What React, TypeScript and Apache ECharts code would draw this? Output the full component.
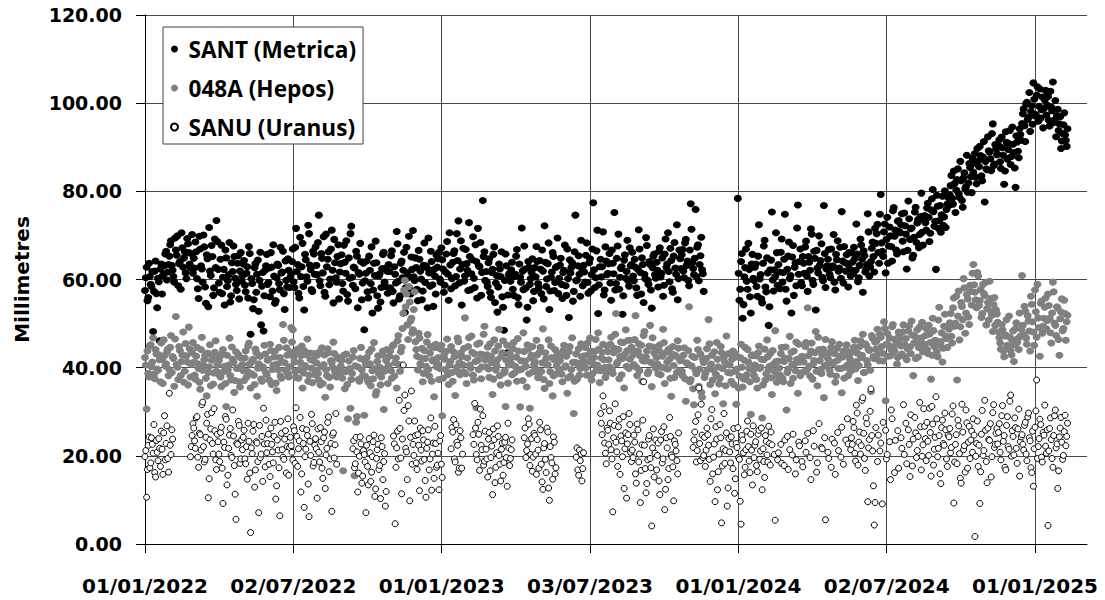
import { useEffect, useRef } from "react";
import * as echarts from "echarts";

// X axis: days since 01/01/2022
const xTickLabels = ["01/01/2022", "02/07/2022", "01/01/2023", "03/07/2023", "01/01/2024", "02/07/2024", "01/01/2025"];
const DAYS_PER_TICK = 1096 / 6; // 01/01/2022 -> 01/01/2025 in six equal steps
const X_MAX_DAYS = 1160;
const STEP_DAYS = 2; // each array holds every second day; "Even" starts at day 0, "Odd" at day 1
const N = null;

const seriesNames = ["SANT (Metrica)", "048A (Hepos)", "SANU (Uranus)"];

// SANT (Metrica), millimetres — even days
const santMetricaEven: (number | null)[] = [
  57.5, 62.8, 55.9, 60.7, 58.4, 48.2, 61.9, 56.8, 60.3, 46.1, 63.5, 60.9, 63.2, 66.4, 61.7,
  65.3, 68.8, 62.1, 59.4, 66.7, 69.9, 63.6, 57.8, 67.2, 64.9, 61.5, 69.3, 66.1, 62.7, 70.2,
  64.8, 68.5, 60.2, 55.7, 66.9, 62.4, 70.1, 58.3, 65.6, 53.8, 61.9, 67.7, 56.4, 69.2, 73.4,
  62.3, 57.1, 67.8, 60.5, 54.2, 64.9, 59.7, 68.4, 56.3, 61.8, 65.2, 58.9, 63.7, 55.6, 66.1,
  60.8, 64.3, 57.2, 62.9, 67.5, 47.6, 59.1, 55.4, 63.6, 61.2, 52.8, 66.2, 58.5, 48.3, 62.1,
  65.7, 59.3, 56.1, 62.8, 67.9, 54.6, 60.4, 63.2, 57.7, 61.5, 66.4, 53.2, 59.8, 64.7, 58.2,
  61.3, 66.9, 58.2, 71.6, 63.4, 55.8, 60.7, 68.2, 53.1, 64.5, 59.6, 70.4, 62.2, 57.3, 65.8,
  67.4, 61.1, 74.6, 58.6, 64.8, 69.7, 56.2, 62.9, 66.3, 60.1, 71.2, 54.7, 63.8, 59.4, 67.9,
  61.7, 65.6, 57.4, 63.9, 68.8, 55.1, 60.3, 72.1, 58.7, 62.6, 66.4, 53.6, 61.2, 64.1, 59.2,
  48.6, 61.4, 57.2, 65.3, 59.1, 52.4, 63.7, 68.7, 56.3, 60.8, 54.9, 62.5, 66.2, 58.4, 61.9,
  63.4, 58.1, 66.5, 54.7, 61.2, 70.9, 59.6, 56.3, 64.2, 62.1, 52.5, 67.3, 60.4, 57.9, 65.1,
  71.1, 59.8, 62.7, 55.2, 64.6, 60.1, 57.4, 68.3, 63.1, 53.6, 61.5, 66.4, 58.8, 62.3, 56.7,
  62.8, 66.2, 59.4, 64.5, 57.1, 61.7, 68.6, 55.3, 63.3, 60.2, 65.9, 58.6, 70.4, 73.3, 62.4,
  54.2, 67.1, 60.8, 63.6, 57.5, 65.2, 61.3, 69.7, 58.2, 64.1, 71.6, 62.9, 56.4, 77.9, 66.3,
  61.8, 58.4, 64.7, 55.9, 62.3, 67.4, 59.2, 52.6, 63.5, 60.7, 56.1, 48.5, 65.8, 43.4, 61.1,
  59.6, 63.9, 56.4, 61.2, 66.8, 54.3, 60.5, 71.7, 57.7, 62.4, 50.8, 64.1, 58.9, 61.6, 55.2,
  62.7, 67.5, 59.1, 64.3, 56.8, 61.9, 72.2, 58.4, 63.6, 53.2, 60.5, 66.1, 57.5, 62.8, 69.4,
  60.3, 64.8, 55.7, 62.1, 58.6, 66.9, 51.4, 61.5, 63.8, 57.3, 74.6, 59.9, 65.4, 56.2, 62.5,
  63.2, 59.4, 68.3, 56.9, 64.7, 61.1, 77.4, 58.2, 66.5, 52.3, 62.9, 60.6, 70.8, 57.6, 64.2,
  61.4, 65.9, 55.3, 63.7, 75.2, 59.1, 67.6, 57.8, 62.5, 52.1, 64.4, 60.3, 68.9, 58.5, 63.1,
  66.2, 59.7, 62.8, 56.4, 71.3, 61.6, 64.9, 54.8, 60.2, 67.7, 58.9, 63.4, 53.5, 65.3, 61.1,
  63.9, 58.3, 67.2, 61.4, 56.2, 65.8, 62.7, 70.6, 59.5, 64.3, 57.1, 68.4, 61.2, 55.4, 66.7,
  62.5, 66.8, 60.4, 69.1, 64.2, 58.6, 77.2, 63.8, 61.1, 75.9, 67.3, 59.7, 65.4, 62.2, 57.3,
  N, N, N, N, N, N, N, N, N, N, N, N, N, N, N,
  N, N, N, N, N, 78.4, 55.3, 64.1, 51.2, 60.6, 66.9, 57.8, 62.3, 52.4, 65.7,
  59.8, 63.5, 56.2, 72.4, 61.1, 54.7, 67.6, 58.3, 64.9, 49.6, 62.2, 75.3, 57.4, 60.7, 66.1,
  63.4, 57.9, 69.2, 61.6, 74.8, 55.1, 65.3, 60.2, 52.4, 67.7, 62.8, 58.6, 76.9, 64.1, 59.3,
  65.2, 61.4, 68.7, 57.3, 63.9, 71.5, 59.8, 66.4, 53.1, 62.6, 69.9, 64.3, 60.5, 76.8, 58.2,
  63.1, 66.8, 60.4, 62.7, 70.2, 57.6, 64.5, 61.9, 67.3, 75.4, 59.2, 63.8, 65.6, 58.3, 62.4,
  66.1, 61.3, 64.7, 72.6, 59.5, 63.2, 67.8, 57.1, 65.4, 62.3, 74.9, 60.8, 64.1, 68.5, 61.7,
  68.2, 72.5, 63.7, 79.3, 66.4, 70.8, 61.5, 74.1, 67.6, 69.9, 64.2, 76.3, 71.2, 65.8, 73.4,
  70.6, 74.9, 66.3, 72.2, 62.4, 77.8, 69.1, 71.7, 65.5, 75.3, 68.4, 73.6, 70.2, 79.6, 67.8,
  74.5, 71.2, 77.3, 68.6, 75.8, 80.4, 72.1, 62.3, 76.6, 73.4, 70.7, 78.9, 74.2, 71.8, 77.1,
  76.8, 81.3, 78.4, 84.6, 75.2, 82.7, 79.5, 86.8, 77.9, 83.1, 80.6, 88.2, 81.9, 85.4, 79.7,
  84.3, 88.6, 81.7, 86.9, 90.2, 83.5, 87.8, 77.6, 85.1, 92.4, 88.9, 84.7, 95.3, 86.2, 89.6,
  88.4, 91.7, 85.2, 89.9, 81.6, 93.5, 87.3, 90.8, 86.1, 94.6, 88.8, 80.9, 91.2, 87.6, 92.9,
  95.4, 98.7, 91.3, 100.2, 96.8, 93.6, 99.4, 104.6, 97.1, 101.8, 95.9, 103.2, 98.5, 94.4, 100.7,
  97.3, 101.5, 94.8, 99.1, 104.8, 96.2, 92.4, 98.6, 95.3, 89.7, 93.1, 97.8, 91.6, 94.2,
];

// SANT (Metrica), millimetres — odd days
const santMetricaOdd: (number | null)[] = [
  60.4, 55.2, 63.7, 58.9, 61.8, 57.3, 64.2, 53.6, 59.5, 62.4, 56.7, 61.2, 65.8, 59.9, 63.4,
  67.9, 63.2, 60.7, 69.4, 65.5, 58.6, 64.1, 70.6, 62.8, 66.3, 60.2, 68.1, 63.5, 65.9, 61.4,
  62.6, 66.3, 57.9, 69.8, 63.1, 59.4, 67.4, 54.6, 64.7, 71.8, 60.9, 65.2, 58.1, 62.7, 68.6,
  59.2, 64.6, 56.8, 62.3, 66.7, 58.4, 61.1, 54.9, 63.8, 67.6, 60.3, 57.5, 65.4, 61.9, 59.6,
  63.5, 58.7, 61.4, 55.8, 65.9, 60.2, 53.4, 62.7, 57.1, 64.4, 59.8, 49.7, 61.6, 56.3, 63.1,
  58.9, 62.6, 66.1, 57.4, 60.8, 55.2, 63.5, 59.1, 67.3, 61.7, 56.8, 64.2, 58.3, 62.1, 60.5,
  64.1, 59.5, 67.3, 61.8, 56.9, 69.6, 62.9, 58.4, 65.7, 60.6, 72.3, 63.3, 57.7, 66.4, 61.2,
  63.2, 68.4, 59.7, 65.9, 61.5, 57.1, 70.3, 64.6, 58.8, 66.9, 62.1, 69.1, 60.4, 65.2, 55.6,
  63.6, 59.1, 67.8, 61.4, 56.6, 64.9, 70.4, 60.5, 62.8, 57.9, 65.3, 61.6, 68.2, 55.4, 63.7,
  59.7, 64.2, 55.8, 62.1, 67.4, 57.6, 60.9, 63.8, 53.5, 61.3, 58.2, 65.7, 59.4, 62.6, 56.9,
  61.8, 65.4, 57.3, 62.9, 59.2, 68.1, 55.6, 63.7, 60.4, 66.2, 58.1, 61.5, 69.8, 56.7, 62.3,
  60.6, 64.9, 57.8, 66.6, 61.9, 55.4, 63.2, 59.3, 62.7, 69.4, 58.5, 64.1, 53.9, 60.8, 65.5,
  64.7, 60.1, 67.2, 62.4, 58.7, 65.8, 61.2, 70.6, 57.9, 63.9, 66.5, 60.7, 64.3, 59.2, 68.8,
  63.4, 59.6, 66.8, 62.1, 72.9, 57.7, 64.5, 60.3, 67.9, 55.8, 63.1, 68.4, 61.6, 65.2, 59.8,
  59.4, 63.8, 57.1, 61.6, 65.7, 54.8, 60.9, 58.3, 62.4, 66.3, 53.7, 59.8, 63.1, 56.5, 61.4,
  62.2, 57.8, 60.7, 65.3, 55.9, 63.5, 59.4, 61.9, 67.6, 58.1, 53.7, 62.8, 60.2, 64.7, 57.3,
  60.6, 64.1, 58.2, 62.4, 66.7, 55.6, 63.9, 60.1, 68.3, 57.4, 61.7, 65.2, 59.3, 62.9, 56.8,
  63.3, 58.9, 61.6, 67.8, 56.4, 60.2, 64.5, 62.7, 55.1, 66.3, 59.7, 63.1, 61.2, 68.9, 58.6,
  61.7, 65.5, 59.3, 63.8, 57.4, 66.9, 62.2, 60.4, 71.2, 58.8, 64.6, 62.9, 56.5, 67.4, 61.1,
  63.6, 59.2, 66.7, 61.3, 57.6, 64.8, 70.3, 60.5, 62.9, 56.3, 65.6, 61.8, 59.7, 67.2, 63.4,
  60.8, 64.6, 58.1, 62.3, 66.9, 56.7, 63.4, 61.2, 69.5, 59.8, 64.1, 57.6, 62.7, 65.8, 60.3,
  62.1, 66.4, 60.6, 64.9, 58.7, 69.2, 63.5, 61.8, 67.1, 57.9, 65.3, 62.6, 72.4, 60.2, 64.7,
  65.6, 61.9, 68.3, 63.2, 59.8, 66.7, 71.4, 62.5, 64.8, 60.7, 67.9, 63.4, 69.6, 61.3, N,
  N, N, N, N, N, N, N, N, N, N, N, N, N, N, N,
  N, N, N, N, N, 61.4, 57.8, 65.9, 54.3, 62.7, 59.6, 68.2, 56.1, 63.5, 60.3,
  62.8, 58.4, 65.3, 60.1, 55.6, 63.7, 68.9, 57.2, 61.5, 53.8, 64.4, 59.9, 62.2, 70.6, 58.7,
  61.7, 66.2, 59.4, 64.6, 57.8, 62.3, 68.5, 60.9, 65.1, 56.4, 63.8, 71.7, 61.2, 66.9, 58.6,
  63.7, 67.4, 60.8, 65.2, 62.1, 70.3, 58.9, 64.8, 66.6, 61.5, 63.2, 68.1, 59.7, 65.9, 62.4,
  64.6, 61.2, 66.9, 63.1, 59.4, 65.7, 68.8, 62.6, 60.3, 64.2, 67.5, 61.9, 63.6, 66.1, 60.8,
  63.9, 67.3, 62.1, 65.8, 60.4, 69.2, 64.6, 66.5, 61.7, 63.4, 70.8, 62.9, 67.1, 65.2, 71.6,
  70.4, 66.1, 74.8, 68.3, 65.2, 72.6, 69.1, 63.7, 71.9, 67.5, 75.6, 69.8, 66.7, 73.2, 70.9,
  72.4, 68.7, 75.1, 70.3, 66.6, 73.8, 71.5, 64.9, 69.6, 76.4, 72.8, 67.2, 74.3, 70.7, 73.5,
  72.9, 76.2, 74.1, 70.5, 78.3, 75.4, 73.2, 79.1, 71.6, 76.8, 74.7, 72.3, 80.1, 75.9, 78.6,
  79.2, 83.6, 77.1, 81.8, 80.3, 85.1, 78.6, 82.4, 76.4, 84.2, 81.1, 79.8, 86.3, 83.3, 87.5,
  86.4, 83.2, 89.7, 85.6, 88.1, 82.4, 91.3, 86.8, 84.9, 89.2, 87.4, 93.1, 85.8, 90.6, 88.3,
  90.4, 86.7, 92.3, 88.2, 84.6, 91.1, 89.5, 93.8, 87.9, 90.7, 85.3, 92.6, 89.1, 94.2, 91.6,
  97.6, 94.9, 99.8, 96.3, 102.4, 98.1, 95.2, 100.9, 97.4, 103.7, 99.3, 96.6, 101.4, 98.8, 102.9,
  99.5, 96.1, 102.7, 98.3, 95.6, 100.6, 97.2, 93.8, 96.9, 91.4, 95.1, 92.8, 90.2,
];

// 048A (Hepos), millimetres — even days
const hepos048AEven: (number | null)[] = [
  42.3, 30.6, 38.7, 44.9, 40.2, 46.8, 37.5, 43.1, 39.4, 41.8, 45.6, 36.4, 42.7, 40.9, 44.2,
  39.6, 47.3, 42.5, 35.8, 51.6, 40.1, 44.8, 38.2, 42.9, 36.7, 45.5, 41.3, 49.2, 37.9, 43.4,
  41.2, 37.4, 44.6, 39.8, 35.1, 46.9, 40.5, 42.8, 33.6, 38.9, 45.2, 41.7, 36.3, 43.5, 39.2,
  38.6, 42.4, 35.7, 44.1, 40.3, 31.2, 39.5, 46.7, 37.2, 41.9, 34.4, 43.6, 39.9, 36.8, 42.2,
  40.7, 37.1, 43.8, 39.2, 45.6, 35.4, 41.5, 38.3, 44.2, 33.5, 40.9, 42.6, 36.9, 39.7, 43.1,
  38.4, 41.9, 45.3, 36.2, 40.6, 43.7, 34.8, 39.5, 42.3, 37.6, 49.8, 41.1, 44.5, 38.7, 40.2,
  49.1, 48.6, 41.3, 37.8, 44.2, 39.6, 42.7, 35.4, 43.9, 40.1, 46.5, 38.3, 41.8, 36.6, 43.2,
  39.4, 42.8, 37.2, 36.1, 44.5, 40.7, 33.3, 38.2, 43.4, 35.6, 41.2, 45.8, 39.1, 37.9, 42.1,
  38.5, 41.6, 16.6, 35.2, 43.1, 28.4, 39.8, 37.3, 42.4, 15.5, 27.6, 40.2, 36.9, 44.6, 38.1,
  29.2, 40.8, 37.4, 43.5, 35.9, 39.3, 45.7, 33.8, 41.4, 38.6, 36.1, 42.9, 30.5, 39.7, 44.1,
  40.5, 43.8, 37.6, 45.2, 41.1, 35.4, 47.3, 39.2, 44.6, 52.3, 59.8, 56.7, 46.4, 54.9, 51.2,
  48.6, 57.2, 44.1, 39.5, 46.7, 42.2, 36.8, 43.9, 40.3, 47.5, 38.1, 44.8, 41.6, 33.4, 45.3,
  40.8, 37.3, 44.2, 29.1, 42.7, 39.6, 46.5, 36.2, 41.4, 38.9, 43.6, 33.7, 40.1, 45.9, 38.4,
  42.5, 39.1, 51.3, 36.4, 44.8, 40.6, 47.2, 38.3, 43.1, 30.9, 41.7, 45.6, 37.5, 42.9, 49.4,
  40.2, 44.7, 37.8, 42.6, 33.9, 46.3, 39.5, 41.8, 48.7, 36.1, 43.4, 38.8, 31.2, 45.1, 40.6,
  42.1, 38.4, 45.7, 40.3, 36.9, 43.8, 31.1, 39.7, 47.9, 41.5, 35.6, 44.2, 30.8, 42.8, 39.1,
  41.4, 46.2, 37.7, 43.5, 39.2, 48.8, 35.3, 42.1, 40.7, 36.4, 44.9, 33.6, 41.8, 38.5, 43.2,
  39.3, 42.7, 36.8, 45.1, 40.4, 34.2, 43.6, 38.1, 46.8, 29.6, 41.2, 37.4, 44.3, 39.8, 42.5,
  41.1, 44.6, 38.3, 42.9, 46.7, 37.2, 40.8, 43.7, 39.4, 47.9, 36.6, 42.2, 45.3, 40.1, 38.9,
  43.6, 40.2, 46.9, 38.7, 44.4, 52.3, 41.3, 37.5, 45.8, 42.1, 35.4, 48.6, 43.9, 39.8, 46.2,
  44.1, 40.7, 51.8, 38.2, 45.4, 42.6, 36.9, 47.3, 41.5, 43.8, 39.1, 49.6, 35.7, 44.7, 40.4,
  42.3, 38.6, 45.2, 40.1, 48.7, 36.4, 43.5, 39.7, 41.9, 33.5, 44.8, 37.8, 42.6, 46.1, 39.3,
  41.7, 38.2, 44.5, 32.4, 40.9, 53.8, 37.3, 42.6, 31.6, 39.4, 46.2, 35.8, 43.1, 33.3, 41.2,
  38.7, 44.3, 50.9, 36.2, 42.8, 39.5, 34.1, 45.7, 40.2, 37.6, 43.4, 31.8, 41.3, 47.2, 38.9,
  40.6, 36.9, 43.8, 39.2, 31.7, 42.4, 38.1, 45.3, 35.6, 41.7, 37.3, 44.1, 39.8, 29.4, 42.9,
  38.2, 42.7, 35.4, 44.9, 40.1, 28.6, 41.8, 37.2, 46.3, 39.5, 43.2, 33.9, 40.8, 48.4, 36.7,
  41.5, 38.3, 44.6, 36.8, 42.2, 30.4, 39.7, 47.1, 43.5, 37.6, 40.9, 45.8, 34.2, 41.3, 38.8,
  42.4, 39.1, 45.7, 53.6, 40.3, 43.8, 37.4, 41.6, 48.2, 35.9, 44.1, 39.6, 42.9, 33.2, 46.4,
  40.7, 43.3, 38.5, 45.9, 41.2, 36.7, 44.4, 39.8, 42.6, 34.3, 43.7, 40.1, 45.2, 38.2, 41.9,
  43.5, 39.8, 46.2, 41.4, 37.1, 44.8, 42.3, 47.6, 38.9, 45.1, 40.6, 43.9, 34.6, 46.7, 42.1,
  44.2, 48.7, 41.6, 46.9, 43.3, 50.4, 32.5, 47.8, 45.1, 42.7, 49.3, 44.6, 46.5, 40.8, 48.1,
  46.4, 43.1, 49.7, 45.2, 41.8, 48.3, 44.7, 50.6, 38.2, 47.1, 45.9, 42.4, 49.2, 46.8, 43.6,
  45.3, 48.9, 43.2, 47.6, 37.4, 51.2, 44.8, 46.1, 42.5, 53.7, 45.9, 41.3, 49.4, 47.2, 44.6,
  48.7, 52.3, 45.6, 55.8, 50.1, 37.2, 57.4, 49.3, 53.9, 60.2, 47.8, 56.6, 51.5, 58.7, 54.2,
  63.4, 57.1, 53.6, 60.8, 55.2, 51.4, 58.9, 56.3, 49.7, 54.8, 59.6, 52.7, 48.2, 55.9, 53.1,
  50.3, 46.8, 44.2, 48.6, 42.5, 47.4, 45.1, 51.7, 43.9, 46.3, 41.4, 48.9, 45.7, 44.1, 47.2,
  60.9, 47.5, 52.8, 45.3, 50.6, 43.8, 54.4, 48.1, 57.6, 46.9, 51.3, 42.6, 55.1, 49.4, 53.7,
  48.8, 56.7, 51.2, 45.6, 59.4, 50.1, 47.3, 53.5, 42.8, 52.6, 48.4, 55.3, 46.2, 51.9,
];

// 048A (Hepos), millimetres — odd days
const hepos048AOdd: (number | null)[] = [
  40.6, 43.8, 37.9, 45.2, 41.3, 38.5, 44.1, 39.7, 42.9, 36.8, 41.9, 46.3, 40.4, 43.5, 38.2,
  44.6, 38.9, 42.1, 46.5, 40.7, 37.3, 43.9, 41.4, 48.1, 39.2, 42.7, 36.1, 44.3, 40.8, 45.7,
  38.3, 42.6, 40.9, 36.7, 44.1, 39.4, 41.8, 37.6, 43.3, 40.2, 35.9, 42.4, 38.8, 46.1, 40.6,
  41.6, 37.9, 43.2, 39.1, 36.4, 42.8, 40.6, 38.2, 44.7, 41.2, 37.1, 39.8, 42.9, 35.6, 40.4,
  39.3, 42.2, 37.8, 44.9, 40.8, 38.6, 41.9, 36.2, 43.4, 39.9, 42.7, 37.4, 40.2, 45.1, 38.8,
  41.7, 37.2, 43.9, 39.6, 42.4, 36.5, 40.8, 44.6, 38.1, 41.3, 46.2, 39.4, 42.8, 37.9, 43.6,
  45.8, 42.4, 39.1, 43.7, 37.6, 41.2, 44.9, 38.8, 40.5, 42.9, 36.9, 43.3, 39.9, 41.7, 38.4,
  41.1, 38.7, 43.6, 40.2, 36.4, 42.9, 39.5, 44.3, 37.8, 41.6, 40.1, 43.2, 38.3, 42.4, 39.8,
  40.3, 37.6, 42.8, 39.1, 36.2, 41.5, 30.8, 38.7, 43.9, 40.4, 28.9, 37.3, 42.1, 39.5, 41.8,
  38.1, 42.3, 36.7, 40.9, 44.2, 37.5, 39.8, 34.6, 42.7, 40.1, 37.9, 43.8, 39.2, 41.6, 36.4,
  42.6, 39.3, 44.9, 38.1, 42.2, 46.1, 40.7, 43.6, 48.9, 57.6, 53.8, 49.7, 58.4, 50.6, 47.8,
  53.2, 45.9, 42.6, 47.8, 40.9, 44.4, 38.7, 42.1, 45.8, 39.6, 43.3, 36.9, 41.8, 44.6, 40.2,
  42.3, 39.8, 45.1, 37.6, 41.9, 43.7, 38.4, 40.6, 44.8, 36.9, 42.5, 39.2, 46.7, 41.1, 43.4,
  40.7, 44.4, 38.6, 42.2, 46.8, 39.9, 43.5, 37.2, 41.4, 45.3, 39.6, 43.1, 40.2, 47.6, 41.8,
  42.9, 39.7, 45.4, 41.2, 37.4, 43.8, 40.5, 44.9, 38.2, 42.6, 46.1, 39.3, 41.7, 36.5, 43.2,
  40.9, 44.3, 38.8, 42.4, 46.6, 39.5, 41.6, 37.1, 43.7, 40.3, 45.2, 38.6, 42.2, 44.8, 40.7,
  39.8, 42.9, 38.4, 44.6, 41.1, 37.3, 43.4, 40.6, 46.3, 39.1, 42.3, 38.2, 44.1, 40.4, 41.9,
  41.6, 38.5, 43.9, 40.1, 42.6, 37.7, 44.8, 39.6, 41.2, 36.9, 43.1, 40.8, 38.3, 45.4, 41.4,
  42.7, 39.9, 45.6, 41.4, 43.8, 38.6, 42.3, 46.4, 40.6, 44.2, 39.3, 43.5, 41.8, 37.8, 44.9,
  41.8, 45.3, 39.6, 43.4, 47.6, 40.9, 44.1, 42.5, 38.4, 45.7, 43.1, 40.3, 46.2, 41.9, 44.6,
  42.9, 46.4, 40.1, 43.7, 39.3, 45.1, 41.6, 48.2, 42.4, 38.6, 44.9, 41.2, 46.8, 43.3, 39.9,
  40.8, 43.9, 38.4, 42.6, 45.7, 39.9, 41.3, 44.2, 37.6, 43.1, 40.5, 42.8, 38.9, 44.4, 41.6,
  39.2, 42.8, 37.5, 41.1, 43.9, 36.8, 40.4, 35.2, 42.3, 38.6, 44.1, 39.7, 34.4, 41.9, 37.8,
  42.1, 39.6, 45.4, 40.8, 37.2, 43.6, 38.5, 41.9, 36.3, 44.8, 39.8, 42.4, 35.9, 40.7, 43.2,
  38.8, 41.9, 36.2, 43.1, 39.7, 35.4, 42.3, 40.1, 37.5, 44.6, 38.4, 41.2, 36.8, 42.7, 39.4,
  40.6, 37.3, 43.4, 39.8, 41.9, 36.1, 44.2, 38.6, 42.5, 40.3, 37.7, 43.9, 39.2, 41.4, 38.1,
  39.9, 43.2, 37.6, 41.4, 44.7, 38.9, 42.1, 36.4, 40.7, 43.8, 39.3, 41.9, 45.3, 38.2, 42.6,
  41.3, 44.8, 39.5, 42.7, 38.1, 45.6, 40.9, 43.4, 39.2, 46.9, 41.6, 38.7, 44.2, 40.4, 43.1,
  42.1, 39.4, 44.6, 40.9, 43.2, 38.1, 41.7, 45.3, 39.8, 42.4, 37.6, 44.1, 40.6, 42.9, 39.2,
  41.2, 44.6, 39.7, 43.3, 40.5, 46.1, 42.8, 38.9, 45.4, 41.6, 44.2, 39.4, 47.3, 42.5, 45.8,
  46.1, 43.2, 47.6, 44.8, 41.5, 48.9, 45.3, 42.6, 46.7, 44.1, 49.8, 43.7, 45.9, 42.3, 47.4,
  44.9, 48.1, 42.6, 46.6, 44.3, 49.5, 43.2, 47.4, 45.6, 42.1, 48.6, 44.6, 46.2, 50.3, 45.1,
  47.3, 44.1, 49.6, 45.7, 42.8, 48.4, 46.2, 43.6, 50.8, 45.1, 47.9, 44.4, 52.1, 46.6, 49.1,
  50.2, 47.1, 53.6, 49.4, 56.2, 51.7, 46.3, 54.8, 50.9, 58.1, 52.4, 55.6, 49.8, 57.3, 61.4,
  58.8, 55.4, 61.6, 54.1, 57.7, 52.3, 56.8, 59.3, 53.4, 50.8, 55.7, 51.9, 54.3, 49.6, 52.2,
  48.1, 45.6, 49.8, 43.8, 47.2, 50.9, 44.6, 46.9, 42.9, 48.3, 45.2, 50.2, 46.6, 52.4, 48.7,
  49.6, 53.9, 46.7, 51.8, 48.3, 56.2, 50.4, 45.1, 52.7, 58.9, 49.1, 54.6, 47.8, 51.2, 55.8,
  50.7, 54.1, 47.9, 52.4, 57.2, 49.6, 53.8, 46.4, 51.1, 55.6, 48.9, 52.3, 50.4,
];

// SANU (Uranus), millimetres — even days
const sanuUranusEven: (number | null)[] = [
  19.8, 10.6, 22.4, 17.3, 24.1, 20.6, 16.2, 23.5, 18.9, 21.7, 25.6, 15.8, 29.1, 22.8, 19.4,
  34.2, 20.3, 23.8, N, N, N, N, N, N, N, N, N, N, 19.8, 24.6,
  26.3, 21.7, 28.9, 17.4, 24.8, 31.6, 22.1, 19.2, 27.4, 10.5, 23.6, 29.8, 20.4, 25.7, 16.9,
  23.2, 18.7, 26.5, 9.2, 21.9, 28.3, 15.6, 24.7, 20.1, 30.4, 17.8, 5.6, 22.6, 26.9, 19.3,
  21.4, 25.8, 18.2, 14.7, 23.3, 2.6, 20.5, 27.1, 16.8, 22.9, 7.1, 19.6, 24.4, 30.8, 17.5,
  20.7, 24.9, 15.3, 22.6, 18.4, 27.6, 13.2, 21.3, 6.4, 25.1, 19.7, 23.8, 16.1, 28.4, 21.9,
  22.3, 19.1, 25.7, 30.9, 17.6, 23.4, 11.8, 26.2, 8.3, 21.5, 24.6, 6.2, 20.1, 27.3, 18.5,
  23.9, 10.4, 20.8, 26.4, 17.2, 24.1, 12.6, 21.7, 28.8, 19.3, 7.4, 25.2, 22.5, 18.1, N,
  N, N, N, N, N, N, N, N, 21.6, 17.3, 24.2, 11.8, 19.9, 22.7, 15.4,
  20.3, 7.1, 17.6, 23.9, 14.2, 19.8, 24.7, 12.5, 21.4, 16.9, 10.3, 22.1, 18.7, 8.6, N,
  N, N, N, 24.5, 4.6, 21.8, 19.3, 26.2, 11.4, 40.6, 33.8, 20.9, 31.4, 9.8, 34.7,
  22.6, 27.9, 18.4, 24.8, 12.1, 21.3, 25.7, 19.2, 10.6, 23.1, 16.8, 28.6, 20.4, 14.9, 22.8,
  17.9, 12.3, 24.6, 15.1, N, N, N, N, N, 26.4, 28.2, 18.6, 23.1, 16.3, 25.7,
  17.2, N, N, N, N, N, N, 24.8, 31.9, 20.3, 27.6, 16.7, 22.4, 29.1, 18.8,
  21.5, 15.2, 25.3, 19.6, 11.2, 23.7, 17.4, 26.8, 20.1, 14.3, 22.9, 18.5, 24.2, 13.1, 21.8,
  19.4, 23.6, N, N, N, N, N, N, N, 26.3, 21.2, 28.4, 17.8, 23.9, 19.7,
  24.6, 15.8, 21.3, 27.6, 18.1, 12.4, 22.8, 16.2, 25.4, 9.9, 19.6, 14.7, 23.1, 17.3, N,
  N, N, N, N, N, N, N, N, N, N, N, 21.8, 15.6, 18.9, 14.3,
  20.7, N, N, N, N, N, N, N, N, N, N, 27.4, 33.6, 22.9, 18.2,
  25.8, 30.2, 21.4, 7.3, 26.9, 23.1, 17.6, 28.3, 24.5, 19.8, 12.6, 25.2, 22.7, 29.6, 20.8,
  21.3, 24.7, 15.9, 27.2, 18.6, 9.4, 22.5, 36.8, 17.1, 13.7, 23.8, 19.4, 4.1, 26.1, 20.6,
  16.8, 22.9, 11.2, 25.5, 19.3, 7.8, 24.1, 14.6, 28.7, 20.2, 17.5, 23.4, 21.1, 15.9, N,
  N, N, N, N, N, N, N, N, 23.6, 27.8, 21.2, 35.4, 18.9, 24.7, 20.1,
  17.6, 26.3, 22.4, 14.2, 30.5, 19.7, 9.6, 23.8, 16.4, 27.1, 4.8, 21.6, 18.3, 25.2, 12.7,
  20.9, 24.3, 17.1, 11.5, 22.8, 26.4, 19.2, 4.5, 23.6, 15.7, 21.4, 27.9, 18.8, 24.9, 13.4,
  19.6, 23.2, 16.4, 25.8, 21.1, 12.3, 18.7, 24.6, 20.2, 26.7, 17.9, 22.5, N, 5.4, N,
  20.7, N, 18.3, N, 23.6, N, 16.9, 21.4, N, 24.9, N, 19.1, N, 22.3, N,
  17.5, N, 20.8, 25.1, N, 14.6, N, 22.2, N, 18.4, 27.3, N, 21.6, N, 5.5,
  N, 19.4, N, 23.8, N, 15.8, N, 21.2, N, 26.5, 18.1, N, N, 22.7, N,
  24.1, 27.8, 20.6, 31.5, 17.9, 25.4, 22.3, 33.2, 19.4, 28.6, 9.6, 23.7, 35.2, 21.1, 4.3,
  26.4, 18.7, N, 22.9, 9.1, N, 25.8, 20.3, N, 14.6, 28.4, N, 23.5, N, 17.2,
  N, 21.7, 31.6, N, 18.2, 25.9, 15.3, N, 23.8, 28.7, 19.6, 24.4, 32.1, 16.8, 22.5,
  26.7, 18.9, 23.3, 30.8, 15.4, 27.2, 21.5, 33.4, 19.8, 24.6, 13.7, 28.1, 22.4, 25.9, 17.6,
  24.3, 20.7, 29.5, 9.3, 22.6, 18.2, 26.8, 14.9, 31.7, 21.4, 16.3, 27.5, 23.1, 19.4, 25.6,
  28.4, 1.7, 22.8, 17.6, 9.2, 24.9, 20.1, 32.6, 18.7, 26.3, 23.5, 15.2, 29.8, 21.9, 25.1,
  22.7, 27.3, 19.1, 31.4, 24.6, 16.8, 28.9, 21.5, 33.8, 25.7, 20.2, 26.4, 18.3, 30.6, 23.2,
  24.8, 21.3, 27.6, 18.9, 29.7, 23.4, 16.2, 13.1, 26.5, 37.2, 22.1, 28.3, 19.7, 25.3, 31.5,
  20.6, 4.2, 26.2, 23.7, 17.4, 29.1, 21.8, 12.6, 24.3, 28.7, 19.2, 25.5, 22.3, 27.4,
];

// SANU (Uranus), millimetres — odd days
const sanuUranusOdd: (number | null)[] = [
  21.2, 16.9, 24.3, 18.4, 22.6, 27.1, 15.2, 20.8, 23.9, 17.6, 21.5, 25.2, 19.1, 26.8, 16.3,
  22.4, 25.9, N, N, N, N, N, N, N, N, N, N, N, 22.1, 27.3,
  23.4, 28.6, 19.7, 25.1, 21.3, 32.2, 18.6, 24.2, 29.4, 14.8, 26.1, 22.8, 30.7, 19.1, 24.9,
  20.4, 25.3, 17.2, 23.1, 28.9, 13.4, 21.7, 26.2, 19.6, 24.5, 11.3, 22.9, 27.8, 18.3, 23.6,
  24.2, 19.3, 22.1, 27.4, 16.1, 21.8, 25.6, 12.9, 23.2, 18.7, 26.9, 20.4, 14.2, 22.7, 28.1,
  22.8, 18.1, 26.3, 20.9, 24.4, 10.2, 23.6, 17.3, 27.8, 21.4, 19.2, 25.7, 22.1, 15.6, 24.2,
  20.8, 26.6, 18.3, 24.4, 21.6, 28.7, 15.9, 22.8, 19.8, 25.9, 13.6, 23.3, 29.4, 17.7, 22.4,
  21.6, 26.1, 18.6, 23.2, 14.9, 25.4, 20.2, 27.6, 16.4, 22.8, 24.7, 19.5, 29.6, N, N,
  N, N, N, N, N, N, N, N, 23.4, 18.2, 20.9, 16.1, 24.3, 13.8, 21.2,
  18.6, 22.4, 13.4, 20.7, 16.3, 23.2, 10.8, 19.4, 22.6, 17.8, 24.1, 14.6, 20.5, 11.9, N,
  N, N, N, 22.7, 17.4, 25.6, 32.6, 19.5, 23.8, 30.3, 21.7, 14.6, 27.9, 24.2, 18.1,
  20.1, 24.6, 16.9, 22.4, 26.3, 18.8, 23.6, 14.4, 21.7, 25.9, 19.3, 12.2, 22.9, 26.7, 17.4,
  20.6, 23.4, 18.1, N, N, N, N, N, 21.6, 25.4, 19.3, 27.1, 22.4, 17.2, 24.1,
  20.4, N, N, N, N, N, N, 22.6, 26.3, 19.1, 24.9, 30.6, 21.4, 17.9, 25.6,
  19.3, 23.8, 16.6, 22.2, 26.1, 13.9, 20.7, 24.4, 18.1, 21.5, 15.6, 23.1, 19.6, 27.4, 17.8,
  21.4, N, N, N, N, N, N, N, 24.1, 19.6, 22.7, 27.2, 20.3, 16.5, 25.1,
  20.4, 23.7, 17.2, 25.9, 14.1, 21.8, 19.2, 26.3, 12.7, 22.1, 18.4, 24.3, 15.9, N, N,
  N, N, N, N, N, N, N, N, N, N, 19.7, 16.8, 21.3, 20.4, 17.1,
  N, N, N, N, N, N, N, N, N, N, 29.6, 24.8, 31.2, 20.6, 26.3,
  22.6, 27.4, 19.3, 24.1, 31.8, 20.9, 26.6, 15.8, 23.4, 28.9, 21.6, 10.4, 24.8, 27.1, 18.7,
  19.6, 23.1, 13.8, 25.9, 20.4, 16.7, 28.1, 22.4, 11.6, 19.1, 24.6, 17.3, 21.8, 15.2, 23.6,
  20.1, 14.3, 23.6, 18.4, 26.6, 12.4, 21.8, 17.1, 24.4, 19.7, 9.8, 22.6, 18.9, 25.2, N,
  N, N, N, N, N, N, N, 21.9, 25.4, 18.6, 29.3, 22.8, 31.7, 19.6, 24.2,
  21.3, 24.8, 19.2, 28.4, 15.9, 22.7, 26.6, 12.3, 20.4, 24.1, 17.7, 29.6, 21.2, 8.6, 23.9,
  18.4, 22.7, 26.2, 14.8, 21.9, 19.6, 9.7, 24.6, 20.7, 17.4, 25.6, 22.1, 16.2, 21.3, 26.8,
  22.4, 17.8, 24.9, 19.2, 26.3, 21.6, 15.1, 23.3, 18.6, 22.8, 25.4, N, 20.3, N, 19.1,
  N, 22.6, N, 17.8, N, 24.4, N, N, 20.2, N, 15.9, N, 23.1, N, 18.7,
  N, 23.4, N, N, 19.6, N, 25.7, N, 16.3, N, N, 21.9, N, 24.1, N,
  20.8, N, 17.4, N, 22.9, N, 25.3, N, 19.7, N, N, 23.6, 28.4, N, 21.4,
  22.6, 26.4, 18.8, 29.7, 23.1, 20.4, 32.6, 25.1, 16.7, 27.3, 21.8, 30.1, 24.6, 13.2, 9.4,
  N, 24.7, 21.1, N, 27.6, N, 19.3, N, 23.2, 30.4, N, 16.2, N, 25.7, N,
  24.1, N, 20.3, 27.4, N, 22.6, 29.3, 17.7, N, 25.2, 21.2, N, 26.6, 19.9, 30.7,
  23.9, 27.6, 20.1, 25.3, 31.2, 17.9, 24.2, 28.4, 21.7, 15.9, 26.4, 22.8, 29.7, 19.3, 24.7,
  26.2, 21.9, 31.3, 18.6, 24.8, 28.1, 20.5, 13.8, 25.4, 22.3, 30.4, 17.2, 26.7, 23.6, 20.8,
  24.7, 19.9, 27.9, 22.4, 16.4, 30.3, 21.2, 25.8, 13.9, 23.7, 27.3, 19.8, 31.6, 22.6, 26.2,
  25.3, 20.8, 29.1, 23.3, 17.4, 26.9, 22.1, 32.4, 19.9, 24.4, 28.6, 21.7, 26.1, 15.4, 24.3,
  22.6, 26.9, 20.4, 28.8, 24.1, 17.3, 25.6, 21.6, 30.2, 19.4, 23.9, 27.1, 18.6, 24.7, 22.2,
  25.9, 21.1, 28.6, 19.4, 24.6, 30.4, 22.7, 16.6, 26.3, 23.1, 20.1, 29.2, 24.4,
];

function toPoints(even: (number | null)[], odd: (number | null)[]): [number, number][] {
  const out: [number, number][] = [];
  even.forEach((v, i) => {
    if (v !== null) out.push([i * STEP_DAYS, v]);
  });
  odd.forEach((v, i) => {
    if (v !== null) out.push([i * STEP_DAYS + 1, v]);
  });
  out.sort((a, b) => a[0] - b[0]);
  return out;
}

const tickValues = xTickLabels.map((_, i) => i * DAYS_PER_TICK);

function xLabel(v: number): string {
  const idx = Math.round(v / DAYS_PER_TICK);
  if (Math.abs(v - idx * DAYS_PER_TICK) < 0.5 && idx >= 0 && idx < xTickLabels.length) return xTickLabels[idx];
  return "";
}

const AXIS_FONT = "DejaVu Sans";
const GRID_COLOR = "#4a4a4a";

export default function App() {
  const ref = useRef<HTMLDivElement>(null);

  useEffect(() => {
    if (!ref.current) return;
    const chart = echarts.init(ref.current, null, { renderer: "svg" });
    chart.setOption({
      animation: false,
      backgroundColor: "#ffffff",
      grid: { left: 145, right: 18, top: 15, bottom: 56, containLabel: false },
      legend: {
        orient: "vertical",
        left: 163,
        top: 27,
        padding: [9, 7, 4, 7],
        itemGap: 13,
        itemWidth: 18,
        itemHeight: 7,
        backgroundColor: "#ffffff",
        borderColor: "#404040",
        borderWidth: 1,
        borderRadius: 0,
        selectedMode: false,
        data: seriesNames,
        textStyle: {
          fontFamily: "Open Sans",
          fontWeight: "bold",
          fontSize: 22.6,
          lineHeight: 26,
          color: "#000000",
        },
      },
      xAxis: {
        type: "value",
        min: 0,
        max: X_MAX_DAYS,
        interval: DAYS_PER_TICK,
        axisLine: { show: true, onZero: false, lineStyle: { color: "#000000", width: 1 } },
        axisTick: { show: true, inside: false, length: 9, customValues: tickValues, lineStyle: { color: "#000000" } },
        axisLabel: {
          customValues: tickValues,
          formatter: xLabel,
          margin: 32,
          fontFamily: AXIS_FONT,
          fontWeight: "bold",
          fontSize: 20,
          color: "#000000",
        },
        splitLine: {
          show: true,
          lineStyle: {
            color: [GRID_COLOR, GRID_COLOR, GRID_COLOR, GRID_COLOR, GRID_COLOR, GRID_COLOR, GRID_COLOR, "#a0a0a0"],
            width: 1,
          },
        },
      },
      yAxis: {
        type: "value",
        min: 0,
        max: 120,
        interval: 20,
        name: "Millimetres",
        nameLocation: "middle",
        nameGap: 113,
        nameTextStyle: { fontFamily: AXIS_FONT, fontWeight: "bold", fontSize: 20, color: "#000000" },
        axisLine: { show: true, onZero: false, lineStyle: { color: "#000000", width: 1 } },
        axisTick: { show: true, inside: false, length: 9, lineStyle: { color: "#000000" } },
        axisLabel: {
          formatter: (v: number) => v.toFixed(2),
          margin: 23,
          fontFamily: AXIS_FONT,
          fontWeight: "bold",
          fontSize: 19,
          color: "#000000",
        },
        splitLine: { show: true, lineStyle: { color: GRID_COLOR, width: 1 } },
      },
      series: [
        {
          name: seriesNames[0],
          type: "scatter",
          symbol: "circle",
          symbolSize: [8, 7],
          itemStyle: { color: "#000000", opacity: 1 },
          data: toPoints(santMetricaEven, santMetricaOdd),
        },
        {
          name: seriesNames[1],
          type: "scatter",
          symbol: "circle",
          symbolSize: [8, 7],
          itemStyle: { color: "#808080", opacity: 1 },
          data: toPoints(hepos048AEven, hepos048AOdd),
        },
        {
          name: seriesNames[2],
          type: "scatter",
          symbol: "circle",
          symbolSize: 6,
          itemStyle: { color: "#ffffff", borderColor: "#000000", borderWidth: 1, opacity: 1 },
          data: toPoints(sanuUranusEven, sanuUranusOdd),
        },
      ],
    });
    return () => chart.dispose();
  }, []);

  return (
    <div
      ref={ref}
      style={{ position: "absolute", left: 0, top: 0, width: 1105, height: 600, background: "#fff" }}
    />
  );
}
